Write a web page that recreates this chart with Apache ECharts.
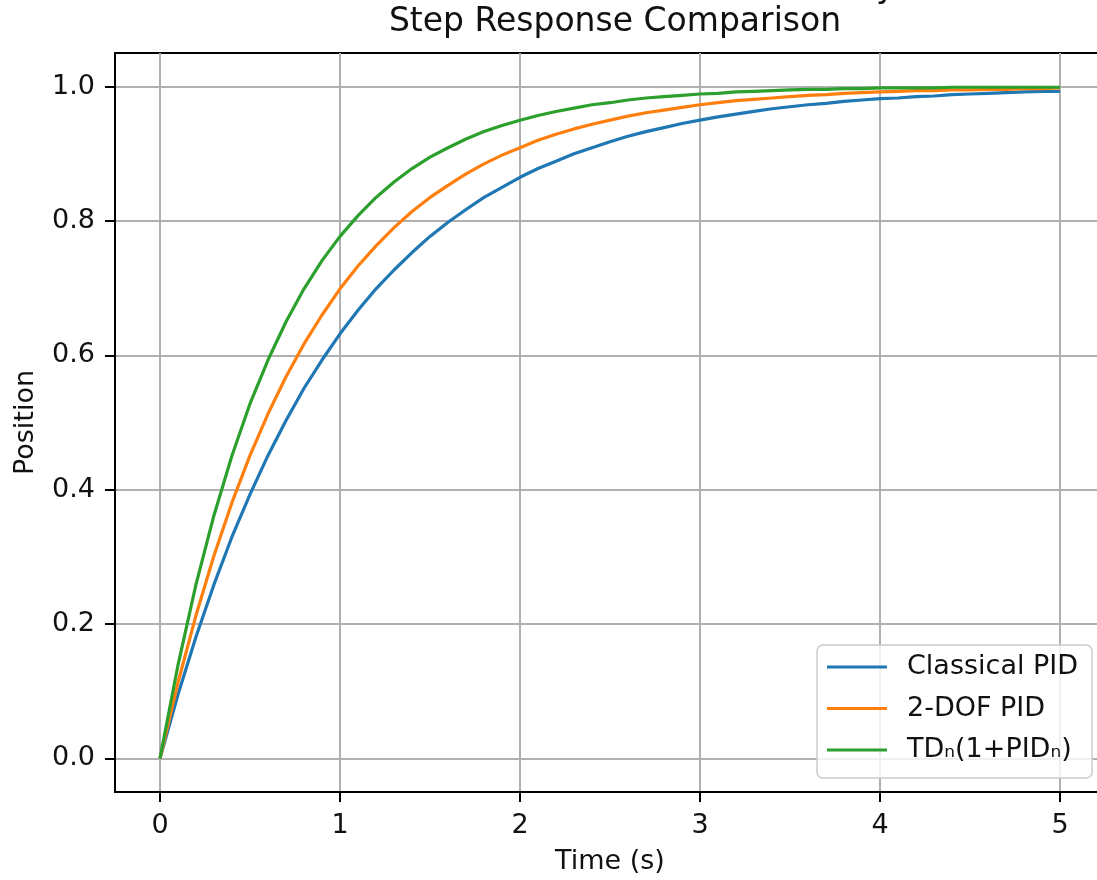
<!DOCTYPE html>
<html>
<head>
<meta charset="utf-8">
<script src="https://cdn.jsdelivr.net/npm/echarts@6/dist/echarts.min.js"></script>
<style>html,body{margin:0;padding:0;background:#fff;overflow:hidden;}#chart{width:1112px;height:880px;}</style>
</head>
<body>
<div id="chart"></div>
<script>
const titleText = 'Step Response Comparison';
const xName = 'Time (s)';
const yName = 'Position';
const seriesNames = ['Classical PID', '2-DOF PID', 'TD\u2099(1+PID\u2099)'];
const xTicks = [0, 1, 2, 3, 4, 5];
const yTicks = [0, 0.2, 0.4, 0.6, 0.8, 1.0];
const time = [0,0.1,0.2,0.3,0.4,0.5,0.6,0.7,0.8,0.9,1.0,1.1,1.2,1.3,1.4,1.5,1.6,1.7,1.8,1.9,2.0,2.1,2.2,2.3,2.4,2.5,2.6,2.7,2.8,2.9,3.0,3.1,3.2,3.3,3.4,3.5,3.6,3.7,3.8,3.9,4.0,4.1,4.2,4.3,4.4,4.5,4.6,4.7,4.8,4.9,5.0];
const classicalPID = [0,0.095,0.181,0.259,0.330,0.393,0.451,0.503,0.551,0.593,0.632,0.667,0.699,0.727,0.753,0.777,0.798,0.817,0.835,0.850,0.865,0.878,0.889,0.900,0.909,0.918,0.926,0.933,0.939,0.945,0.950,0.955,0.959,0.963,0.967,0.970,0.973,0.975,0.978,0.980,0.982,0.983,0.985,0.986,0.988,0.989,0.990,0.991,0.992,0.993,0.993];
const twoDofPID = [0,0.113,0.213,0.302,0.381,0.451,0.513,0.568,0.617,0.660,0.699,0.733,0.763,0.790,0.814,0.835,0.853,0.870,0.885,0.898,0.909,0.920,0.929,0.937,0.944,0.950,0.956,0.961,0.965,0.969,0.973,0.976,0.979,0.981,0.983,0.985,0.987,0.988,0.990,0.991,0.992,0.993,0.994,0.994,0.995,0.995,0.996,0.996,0.997,0.997,0.998];
const tdPID = [0,0.139,0.259,0.362,0.451,0.528,0.593,0.650,0.699,0.741,0.777,0.808,0.835,0.858,0.878,0.895,0.909,0.922,0.933,0.942,0.950,0.957,0.963,0.968,0.973,0.976,0.980,0.983,0.985,0.987,0.989,0.990,0.992,0.993,0.994,0.995,0.996,0.996,0.997,0.997,0.998,0.998,0.998,0.998,0.999,0.999,0.999,0.999,0.999,0.999,0.999];
const colors = ['#1f77b4', '#ff7f0e', '#2ca02c'];

const FONT = 'DejaVu Sans';
const chart = echarts.init(document.getElementById('chart'), null, {renderer: 'canvas'});
const pairs = arr => time.map((t, i) => [t, arr[i]]);
const allSeries = [classicalPID, twoDofPID, tdPID].map((arr, i) => ({
  name: seriesNames[i],
  type: 'line',
  data: pairs(arr),
  showSymbol: false,
  smooth: false,
  color: colors[i],
  lineStyle: {width: 3.2, color: colors[i], join: 'round'},
  z: 3 + i
}));

chart.setOption({
  animation: false,
  backgroundColor: '#ffffff',
  textStyle: {fontFamily: FONT},
  title: {
    text: titleText,
    left: 610,
    textAlign: 'center',
    top: 1,
    textStyle: {fontFamily: FONT, fontSize: 33, fontWeight: 'normal', color: '#111'}
  },
  graphic: [{
    type: 'text', left: 876, top: -28, silent: true,
    style: {text: 'y', fontFamily: FONT, fontSize: 33, fill: '#111'}
  }],
  legend: {
    orient: 'vertical',
    left: 817,
    top: 645,
    icon: 'rect',
    itemWidth: 60,
    itemHeight: 3.2,
    itemGap: 11.5,
    padding: [7, 14, 13, 10],
    backgroundColor: 'rgba(255,255,255,0.8)',
    borderColor: '#cccccc',
    borderWidth: 1.5,
    borderRadius: 6,
    textStyle: {fontFamily: FONT, fontSize: 27, lineHeight: 30, color: '#111', padding: [0, 0, 0, 15]},
    data: seriesNames
  },
  grid: {
    left: 115, top: 53, width: 990, height: 740,
    show: true, borderColor: '#000', borderWidth: 2, containLabel: false
  },
  xAxis: {
    type: 'value',
    min: -0.25, max: 5.25, splitNumber: 5,
    name: xName, nameLocation: 'middle', nameGap: 56,
    nameTextStyle: {fontFamily: FONT, fontSize: 27, color: '#111'},
    axisLine: {show: true, onZero: false, lineStyle: {color: '#000', width: 2}},
    axisTick: {show: true, inside: false, length: 10, lineStyle: {color: '#000', width: 2}, customValues: xTicks},
    axisLabel: {show: true, margin: 20, fontFamily: FONT, fontSize: 27, color: '#111', customValues: xTicks, formatter: v => String(v)},
    splitLine: {show: true, lineStyle: {color: '#b0b0b0', width: 2}}
  },
  yAxis: {
    type: 'value',
    min: -0.05, max: 1.05, splitNumber: 5,
    name: yName, nameLocation: 'middle', nameGap: 76,
    nameTextStyle: {fontFamily: FONT, fontSize: 27, color: '#111'},
    axisLine: {show: true, onZero: false, lineStyle: {color: '#000', width: 2}},
    axisTick: {show: true, inside: false, length: 10, lineStyle: {color: '#000', width: 2}, customValues: yTicks},
    axisLabel: {show: true, margin: 20, fontFamily: FONT, fontSize: 27, color: '#111', customValues: yTicks, formatter: v => v.toFixed(1)},
    splitLine: {show: true, lineStyle: {color: '#b0b0b0', width: 2}}
  },
  series: allSeries
});
</script>
</body>
</html>
